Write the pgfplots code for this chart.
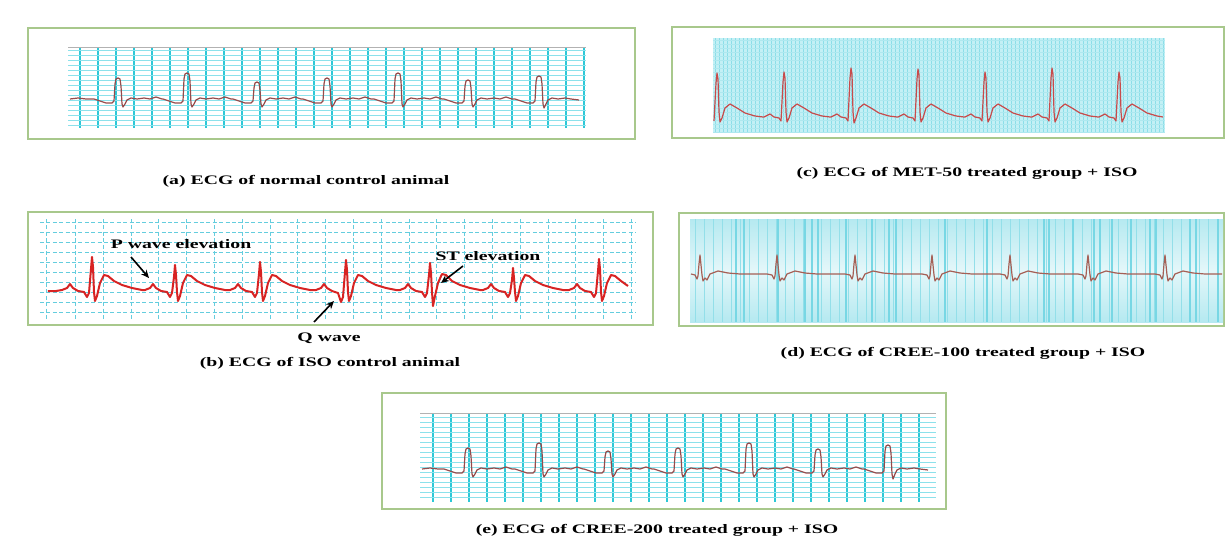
\documentclass[border=0pt]{standalone}
\usepackage{fontspec}
\setmainfont{Liberation Serif}
\usepackage{pgfplots}
\pgfplotsset{compat=1.18}
\usetikzlibrary{arrows.meta}
\definecolor{frm}{RGB}{168,200,140}
\definecolor{cyA}{RGB}{45,200,215}
\definecolor{cyAl}{RGB}{140,225,235}
\definecolor{cyC}{RGB}{140,222,232}
\definecolor{cyCbg}{RGB}{195,240,245}
\definecolor{cyB}{RGB}{100,205,222}
\definecolor{cyD}{RGB}{120,215,228}
\definecolor{trA}{RGB}{150,75,75}
\definecolor{trB}{RGB}{215,35,35}
\definecolor{trC}{RGB}{200,75,75}
\definecolor{trD}{RGB}{165,95,85}
\newcommand\lbl{\fontsize{6.5}{7}\selectfont\bfseries}
\newcommand\sx[1]{\scalebox{1.52}[1]{\lbl #1}}
\pgfplotsset{ecg/.style={scale only axis, anchor=north west, y dir=reverse,
  enlargelimits=false, axis line style={draw=none}, major tick length=0pt,
  minor tick length=0pt, tick style={draw=none}, xticklabel={\relax}, yticklabel={\relax},
  grid=major}}
\begin{document}
\begin{tikzpicture}[x=0.5pt,y=-0.5pt]
\fill[white] (0,0) rectangle (1225,540);
\useasboundingbox (0,0) rectangle (1225,540);
% frames
\draw[frm, line width=1pt] (28,28) rectangle (635,139);
\draw[frm, line width=1pt] (672,27) rectangle (1224,138);
\draw[frm, line width=1pt] (28,212) rectangle (653,325);
\draw[frm, line width=1pt] (679,213) rectangle (1224,326);
\draw[frm, line width=1pt] (382,393) rectangle (946,509);

% ---------- (a)
\begin{axis}[ecg, at={(34pt,-23.5pt)}, width=259pt, height=40.5pt,
  xmin=68, xmax=586, ymin=47, ymax=128,
  xtick={80,98,...,578}, ytick={50,55,...,125},
  major x grid style={cyA, line width=0.9pt},
  major y grid style={cyAl, line width=0.35pt}]
\draw[gray!60, line width=0.9pt] (axis cs:68,47) -- (axis cs:586,47);
\draw[black!70, line width=0.5pt] (axis cs:72,45.5) -- (axis cs:84,45.5);
\addplot[trA, line width=0.6pt, line join=round] coordinates {
(70,99) (78,98) (86,99)
(94,99) (100,101) (106,103) (112,103) (114,101) (115,84) (116,79) (118,78) (120,79) (121,86) (122,104) (123,107) (125,104) (127,100) (131,98) (137,99) (144,98) (150,99) (156,97) (162,99)
(163,99) (169,101) (175,103) (181,103) (183,101) (184,79) (185,74) (187,73) (189,74) (190,81) (191,104) (192,107) (194,104) (196,100) (200,98) (206,99) (213,98) (219,99) (225,97) (231,99)
(233,99) (239,101) (245,103) (251,103) (253,101) (254,88) (255,83) (257,82) (259,83) (260,90) (261,104) (262,107) (264,104) (266,100) (270,98) (276,99) (283,98) (289,99) (295,97) (301,99)
(303,99) (309,101) (315,103) (321,103) (323,101) (324,84) (325,79) (327,78) (329,79) (330,86) (331,104) (332,107) (334,104) (336,100) (340,98) (346,99) (353,98) (359,99) (365,97) (371,99)
(374,99) (380,101) (386,103) (392,103) (394,101) (395,79) (396,74) (398,73) (400,74) (401,81) (402,104) (403,107) (405,104) (407,100) (411,98) (417,99) (424,98) (430,99) (436,97) (442,99)
(444,99) (450,101) (456,103) (462,103) (464,101) (465,86) (466,81) (468,80) (470,81) (471,88) (472,104) (473,107) (475,104) (477,100) (481,98) (487,99) (494,98) (500,99) (506,97) (512,99)
(515,99) (521,101) (527,103) (533,103) (535,101) (536,82) (537,77) (539,76) (541,77) (542,84) (543,104) (544,108) (546,104) (548,100) (552,98) (558,99) (565,98) (571,99) (579,100)
};
\end{axis}

% ---------- (c)
\begin{axis}[ecg, at={(356.5pt,-19pt)}, width=226pt, height=47.5pt,
  xmin=713, xmax=1165, ymin=38, ymax=133,
  axis background/.style={fill=cyCbg},
  xtick={715,719,...,1163}, ytick={40,44,...,132},
  major x grid style={cyC, line width=0.45pt},
  major y grid style={cyC!70, line width=0.3pt}]
\addplot[trC, line width=0.6pt, line join=round] coordinates {
(714,121) (716,83) (717,73) (718,79) (719,112) (720,122) (722,118) (725,108) (730,104) (737,108) (745,113) (755,116) (763,117)
(764,117) (770,114) (774,117) (779,118) (781,121) (783,82) (784,72) (785,78) (786,112) (787,122) (789,118) (792,108) (797,104) (804,108) (812,113) (822,116) (830,117)
(831,117) (837,114) (841,117) (846,118) (848,121) (850,78) (851,68) (852,74) (853,112) (854,123) (856,118) (859,108) (864,104) (871,108) (879,113) (889,116) (897,117)
(898,117) (904,114) (908,117) (913,118) (915,121) (917,79) (918,69) (919,75) (920,112) (921,122) (923,118) (926,108) (931,104) (938,108) (946,113) (956,116) (964,117)
(965,117) (971,114) (975,117) (980,118) (982,121) (984,82) (985,72) (986,78) (987,112) (988,122) (990,118) (993,108) (998,104) (1005,108) (1013,113) (1023,116) (1031,117)
(1032,117) (1038,114) (1042,117) (1047,118) (1049,121) (1051,78) (1052,68) (1053,74) (1054,112) (1055,122) (1057,118) (1060,108) (1065,104) (1072,108) (1080,113) (1090,116) (1098,117)
(1099,117) (1105,114) (1109,117) (1114,118) (1116,121) (1118,82) (1119,72) (1120,78) (1121,112) (1122,122) (1124,118) (1127,108) (1132,104) (1139,108) (1147,113) (1157,116) (1163,117)
};
\end{axis}

% ---------- (b)
\begin{axis}[ecg, at={(20pt,-109.5pt)}, width=298pt, height=50.5pt,
  xmin=40, xmax=636, ymin=219, ymax=320,
  xtick={47,75,103,131,158,186,214,242,270,297,325,353,381,409,436,464,492,520,548,575,603,631},
  ytick={222,232,...,318},
  major x grid style={cyB, line width=0.5pt, dash pattern=on 2pt off 1.2pt},
  major y grid style={cyB, line width=0.5pt, dash pattern=on 2pt off 1.2pt}]
\addplot[trB, line width=1pt, line join=round] coordinates {
(48,291) (56,291)
(62,290) (67,288) (70,284) (73,288) (78,291) (84,292) (87,297) (89,293) (91,269) (92,257) (93,267) (94,292) (95,301) (97,296) (100,283) (104,275) (108,276) (114,281) (122,285) (132,288) (142,290)
(145,290) (150,288) (153,284) (156,288) (161,291) (167,292) (170,297) (172,293) (174,277) (175,265) (176,275) (177,292) (178,301) (180,296) (183,283) (187,275) (191,276) (197,281) (205,285) (215,288) (225,290)
(230,290) (235,288) (238,284) (241,288) (246,291) (252,292) (255,297) (257,293) (259,274) (260,262) (261,272) (262,292) (263,301) (265,296) (268,283) (272,275) (276,276) (282,281) (290,285) (300,288) (310,290)
(316,290) (321,288) (324,284) (327,288) (332,291) (338,293) (341,302) (343,297) (345,272) (346,260) (347,270) (348,292) (349,301) (351,296) (354,283) (358,275) (362,276) (368,281) (376,285) (386,288) (396,290)
(400,290) (405,288) (408,284) (411,288) (416,291) (422,292) (425,297) (427,293) (429,275) (430,263) (431,273) (432,292) (433,306) (435,296) (438,283) (442,274) (446,275) (452,281) (460,285) (470,288) (480,290)
(483,290) (488,288) (491,284) (494,288) (499,291) (505,292) (508,297) (510,293) (512,280) (513,268) (514,278) (515,292) (516,301) (518,296) (521,283) (525,275) (529,276) (535,281) (543,285) (553,288) (563,290)
(569,290) (574,288) (577,284) (580,288) (585,291) (591,292) (594,297) (596,293) (598,271) (599,259) (600,269) (601,292) (602,301) (604,296) (607,283) (611,275) (615,276) (621,281) (628,286)
};
\end{axis}

% ---------- (d)
\begin{axis}[ecg, at={(345pt,-109.5pt)}, width=266.5pt, height=51.5pt,
  xmin=690, xmax=1223, ymin=219, ymax=322,
  axis background/.style={top color=cyD!55, bottom color=cyD!55, middle color=cyD!20},
  xtick={736,744,778,805,812,818,846,872,889,896,945,987,1044,1049,1073,1094,1100,1112,1131,1150,1156,1190,1196,1218},
  minor xtick={695,704,...,1220}, ytick=\empty, xminorgrids=true,
  major x grid style={cyD, line width=1.4pt},
  minor x grid style={cyD!80, line width=0.5pt}]
\addplot[trD, line width=0.6pt, line join=round] coordinates {
(691,274) (695,275) (697,279) (698,276) (699,264) (700,255) (701,265) (702,275) (703,281) (705,278) (707,280) (710,274) (718,271) (728,273) (740,274) (750,274)
(752,274) (767,274) (772,275) (774,279) (775,276) (776,264) (777,255) (778,265) (779,275) (780,281) (782,278) (784,280) (787,274) (795,271) (805,273) (817,274) (827,274)
(830,274) (845,274) (850,275) (852,279) (853,276) (854,264) (855,255) (856,265) (857,275) (858,281) (860,278) (862,280) (865,274) (873,271) (883,273) (895,274) (905,274)
(907,274) (922,274) (927,275) (929,279) (930,276) (931,264) (932,255) (933,265) (934,275) (935,281) (937,278) (939,280) (942,274) (950,271) (960,273) (972,274) (982,274)
(985,274) (1000,274) (1005,275) (1007,279) (1008,276) (1009,264) (1010,255) (1011,265) (1012,275) (1013,281) (1015,278) (1017,280) (1020,274) (1028,271) (1038,273) (1050,274) (1060,274)
(1063,274) (1078,274) (1083,275) (1085,279) (1086,276) (1087,264) (1088,255) (1089,265) (1090,275) (1091,281) (1093,278) (1095,280) (1098,274) (1106,271) (1116,273) (1128,274) (1138,274)
(1140,274) (1155,274) (1160,275) (1162,279) (1163,276) (1164,264) (1165,255) (1166,265) (1167,275) (1168,281) (1170,278) (1172,280) (1175,274) (1183,271) (1193,273) (1205,274) (1222,274)
};
\end{axis}

% ---------- (e)
\begin{axis}[ecg, at={(210pt,-206.5pt)}, width=258pt, height=44.5pt,
  xmin=420, xmax=936, ymin=413, ymax=502,
  xtick={433,451,...,925}, ytick={417,422,...,497},
  major x grid style={cyA, line width=0.9pt},
  major y grid style={cyAl, line width=0.35pt}]
\draw[gray!60, line width=0.9pt] (axis cs:420,413) -- (axis cs:936,413);
\draw[black!70, line width=0.5pt] (axis cs:423,411.5) -- (axis cs:436,411.5);
\addplot[trA, line width=0.6pt, line join=round] coordinates {
(422,469) (430,468) (438,469)
(444,469) (450,471) (456,473) (462,473) (464,471) (465,454) (466,449) (468,448) (470,449) (471,456) (472,474) (473,477) (475,474) (477,470) (481,468) (487,469) (494,468) (500,469) (506,467) (512,469)
(515,469) (521,471) (527,473) (533,473) (535,471) (536,449) (537,444) (539,443) (541,444) (542,451) (543,474) (544,477) (546,474) (548,470) (552,468) (558,469) (565,468) (571,469) (577,467) (583,469)
(584,469) (590,471) (596,473) (602,473) (604,471) (605,457) (606,452) (608,451) (610,452) (611,459) (612,474) (613,477) (615,474) (617,470) (621,468) (627,469) (634,468) (640,469) (646,467) (652,469)
(654,469) (660,471) (666,473) (672,473) (674,471) (675,454) (676,449) (678,448) (680,449) (681,456) (682,474) (683,477) (685,474) (687,470) (691,468) (697,469) (704,468) (710,469) (716,467) (722,469)
(725,469) (731,471) (737,473) (743,473) (745,471) (746,449) (747,444) (749,443) (751,444) (752,451) (753,474) (754,477) (756,474) (758,470) (762,468) (768,469) (775,468) (781,469) (787,467) (793,469)
(794,469) (800,471) (806,473) (812,473) (814,471) (815,455) (816,450) (818,449) (820,450) (821,457) (822,474) (823,477) (825,474) (827,470) (831,468) (837,469) (844,468) (850,469) (856,467) (862,469)
(864,469) (870,471) (876,473) (882,473) (884,471) (885,451) (886,446) (888,445) (890,446) (891,453) (892,474) (893,479) (895,474) (897,470) (901,468) (907,469) (914,468) (920,469) (928,470)
};
\end{axis}

% annotations in (b)
\node at (181,244) {\sx{P wave elevation}};
\draw[-{Stealth[length=4pt,width=3.5pt]}, line width=0.8pt] (131,257) -- (149,278);
\node at (488,256) {\sx{ST elevation}};
\draw[-{Stealth[length=4pt,width=3.5pt]}, line width=0.8pt] (463,266) -- (441,283);
\node at (329,338) {\sx{Q wave}};
\draw[-{Stealth[length=4pt,width=3.5pt]}, line width=0.8pt] (314,322) -- (334,301);

% captions
\node at (306,181) {\sx{(a) ECG of normal control animal}};
\node at (967,173) {\sx{(c) ECG of MET-50 treated group + ISO}};
\node at (330,363) {\sx{(b) ECG of ISO control animal}};
\node at (963,353) {\sx{(d) ECG of CREE-100 treated group + ISO}};
\node at (657,530) {\sx{(e) ECG of CREE-200 treated group + ISO}};
\end{tikzpicture}
\end{document}
